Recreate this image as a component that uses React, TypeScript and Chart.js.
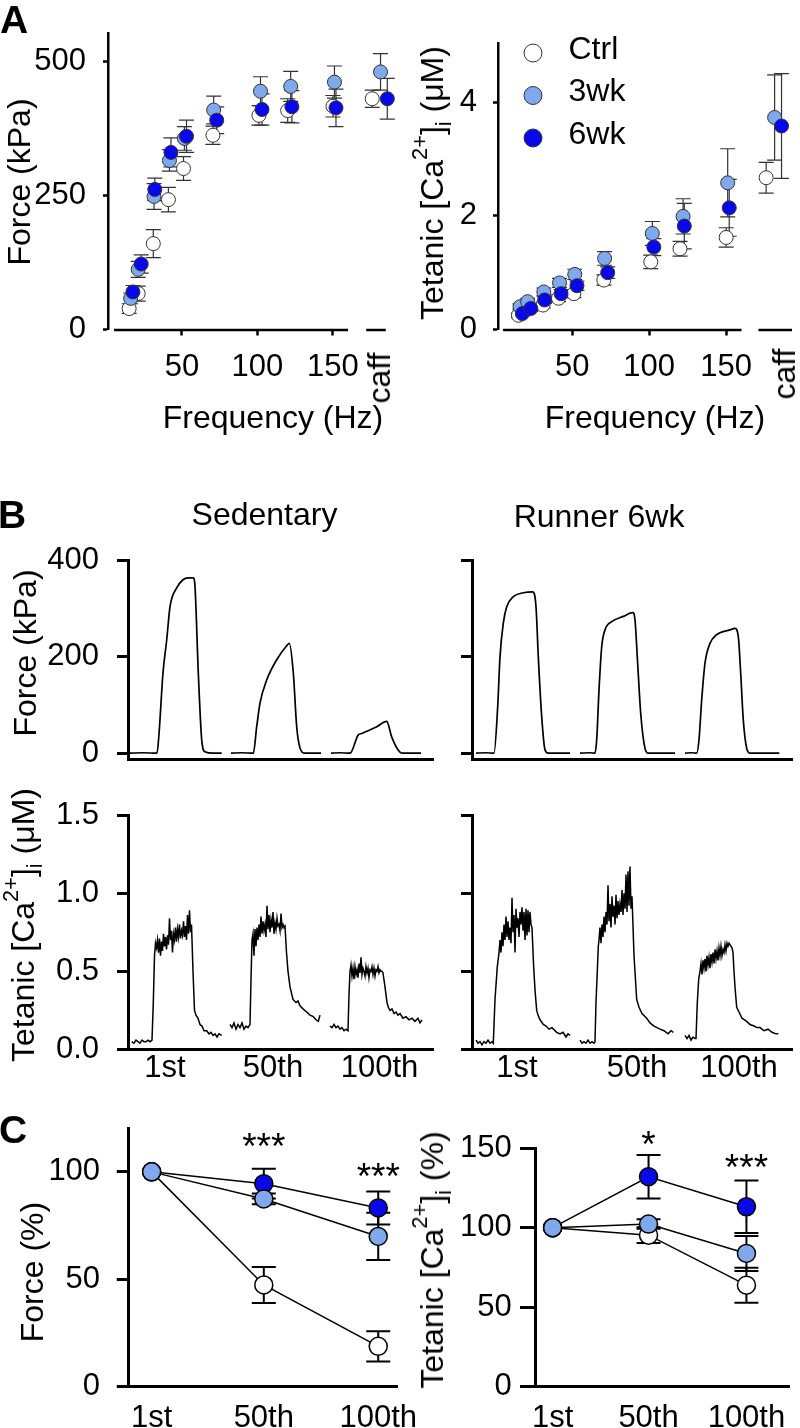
import React, { useEffect, useRef } from 'react';
import { Chart, registerables } from 'chart.js';

Chart.register(...registerables);

const FONT = "'Liberation Sans', Arial, Helvetica, sans-serif";
const TICK_FS = 31;
const TITLE_FS = 32;
const WHITE = '#ffffff';
const LIGHT = '#80a8ec';
const DARK = '#0808e8';

type Pt = [number, number];

// ---------------- Panel A: frequency relationships ----------------
const seriesNames = ['Ctrl', '3wk', '6wk'];
const freqTicks = [50, 100, 150];
// last entry of each x list is the caffeine (caff) group
const freqCtrl = [15, 21, 31, 41, 51, 70.5, 101, 120, 150, 176];
const freq3wk = [16, 21, 31.5, 41.7, 51.6, 71, 102, 122, 151, 181.5];
const freq6wk = [17.5, 23, 32, 42.7, 53, 73, 103, 122.8, 152, 186];

const forceCtrl = [39, 67, 160, 242, 300, 362, 399, 408, 416, 430];
const forceCtrlSE = [9, 14, 26, 23, 22, 17, 18, 22, 20, 16];
const force3wk = [58, 112, 248, 315, 356, 409, 444, 453, 461, 480];
const force3wkSE = [10, 15, 24, 20, 22, 26, 27, 28, 30, 34];
const force6wk = [70, 122, 261, 330, 360, 390, 410, 415, 413, 430];
const force6wkSE = [12, 17, 21, 27, 30, 25, 29, 30, 35, 38];
const forceTicks = [0, 250, 500];

const caCtrl = [0.25, 0.37, 0.43, 0.55, 0.63, 0.87, 1.19, 1.42, 1.62, 2.67];
const caCtrlSE = [0.04, 0.05, 0.05, 0.06, 0.07, 0.09, 0.12, 0.13, 0.17, 0.27];
const ca3wk = [0.4, 0.49, 0.66, 0.82, 0.97, 1.25, 1.69, 1.99, 2.58, 3.73];
const ca3wkSE = [0.05, 0.06, 0.07, 0.08, 0.09, 0.12, 0.21, 0.31, 0.6, 0.75];
const ca6wk = [0.28, 0.37, 0.52, 0.63, 0.77, 1.0, 1.45, 1.82, 2.14, 3.58];
const ca6wkSE = [0.04, 0.05, 0.06, 0.07, 0.08, 0.1, 0.15, 0.4, 0.5, 0.92];
const caTicks = [0, 2, 4];

// ---------------- Panel B: example traces (time in ms-like units) ----------------
const traceForceTicks = [0, 200, 400];
const traceCaTicks = [0, 0.5, 1.0, 1.5];
const stimLabels = ['1st', '50th', '100th'];
const sedLabelT = [37, 145, 251.5];
const runLabelT = [45, 165, 267];

const sedForce1st: Pt[] = [[2, 0], [15, 1], [29, 0], [31, 40], [35, 167], [38.7, 235], [42, 304], [48.7, 343], [55, 360], [60, 364], [65.3, 364], [67, 346], [70.3, 167], [73.7, 28], [77, 3], [85, 0], [93.7, 0]];
const sedForce50th: Pt[] = [[103, 0], [114, 1], [125.3, 0], [128.7, 55], [132, 104], [138.7, 152], [148.7, 194], [158.7, 223], [161.3, 228], [165.3, 167], [168.7, 55], [172, 11], [177, 0], [193, 0]];
const sedForce100th: Pt[] = [[203, 0], [212, 1], [222, 0], [230.3, 38], [233.7, 41], [248.7, 55], [258.7, 66], [263.7, 34], [270, 7], [274, 0], [293, 0]];

const runForce1st: Pt[] = [[4, 0], [14, 1], [22, 0], [25.7, 97], [28, 200], [31.3, 270], [34.7, 304], [41.3, 325], [51.3, 333], [60.7, 335], [64, 304], [66.3, 200], [69.7, 76], [73, 7], [76.3, 0], [98, 0]];
const runForce50th: Pt[] = [[108, 0], [118, 1], [123, 0], [124.7, 28], [127, 131], [129.7, 221], [133, 256], [139.7, 273], [151.3, 284], [160.7, 292], [163, 277], [165.3, 200], [168.7, 83], [173, 10], [176.3, 0], [203, 0]];
const runForce100th: Pt[] = [[213, 0], [220, 1], [224.7, 0], [227, 28], [229.7, 111], [233, 187], [238, 228], [244.7, 246], [258, 256], [263, 259], [266.3, 242], [268.7, 166], [271.3, 69], [274.7, 10], [278, 0], [307.3, 0]];

const sedCa1st: Pt[] = [[3.7, 0.05], [6, 0.04], [8, 0.06], [10, 0.05], [12, 0.04], [14, 0.06], [16, 0.05], [18, 0.05], [20, 0.06], [22, 0.05], [24, 0.06], [25.3, 0.3], [26.5, 0.6], [27.5, 0.68], [28.5, 0.65], [29.5, 0.7], [30.5, 0.62], [31.5, 0.71], [32.5, 0.6], [33.5, 0.69], [34.5, 0.63], [35.5, 0.74], [36.5, 0.66], [37.5, 0.72], [38.5, 0.64], [39.5, 0.73], [40.5, 0.67], [41.5, 0.84], [42.5, 0.7], [43.5, 0.76], [44.5, 0.62], [45.5, 0.74], [46.5, 0.7], [47.5, 0.78], [48.5, 0.69], [49.5, 0.77], [50.5, 0.72], [51.5, 0.8], [52.5, 0.71], [53.5, 0.76], [54.5, 0.73], [55.5, 0.82], [56.5, 0.72], [57.5, 0.79], [58.5, 0.7], [59.5, 0.86], [60.5, 0.74], [61.5, 0.89], [62.5, 0.75], [63.5, 0.8], [65, 0.5], [66.5, 0.25], [68, 0.22], [70, 0.2], [72, 0.16], [74, 0.15], [76, 0.12], [78.7, 0.12], [81, 0.1], [83, 0.11], [85, 0.09], [87, 0.1], [89, 0.08], [91, 0.1], [93.7, 0.09]];
const sedCa50th: Pt[] = [[102, 0.16], [104, 0.14], [106, 0.17], [108, 0.13], [110, 0.16], [112, 0.14], [114, 0.17], [116, 0.13], [118, 0.15], [120, 0.14], [122, 0.16], [123, 0.45], [124, 0.7], [125, 0.74], [126, 0.6], [127, 0.77], [128, 0.66], [129, 0.78], [130, 0.7], [131, 0.8], [132, 0.72], [133, 0.85], [134, 0.74], [135, 0.82], [136, 0.76], [137, 0.8], [138, 0.72], [139, 0.92], [140, 0.77], [141, 0.86], [142, 0.75], [143, 0.83], [144, 0.78], [145, 0.88], [146, 0.74], [147, 0.81], [148, 0.77], [149, 0.84], [150, 0.79], [151, 0.8], [152, 0.76], [153, 0.87], [154, 0.78], [155, 0.8], [156, 0.78], [157, 0.79], [158.5, 0.62], [160, 0.5], [162, 0.4], [165, 0.32], [168, 0.3], [170, 0.31], [172, 0.28], [175, 0.26], [178.7, 0.24], [182, 0.22], [185.3, 0.21], [188, 0.19], [190.3, 0.18], [192, 0.22]];
const sedCa100th: Pt[] = [[202, 0.15], [204, 0.14], [206, 0.16], [208, 0.14], [210, 0.15], [212, 0.13], [214, 0.14], [216, 0.12], [218, 0.13], [220, 0.12], [221, 0.35], [222, 0.5], [223, 0.54], [224, 0.47], [225, 0.52], [226, 0.45], [227, 0.53], [228, 0.48], [229, 0.51], [230, 0.46], [231, 0.55], [232, 0.49], [233, 0.59], [234, 0.48], [235, 0.52], [236, 0.5], [237, 0.47], [238, 0.53], [239, 0.49], [240, 0.52], [241, 0.46], [242, 0.51], [243, 0.5], [244, 0.53], [245, 0.48], [246, 0.52], [247, 0.47], [248, 0.51], [249, 0.5], [250, 0.53], [251, 0.49], [252, 0.51], [253, 0.5], [254, 0.5], [255, 0.49], [257, 0.4], [259, 0.3], [260.3, 0.27], [262, 0.25], [264, 0.26], [266, 0.23], [268, 0.24], [270, 0.22], [272, 0.23], [275, 0.2], [278, 0.21], [281, 0.19], [284, 0.2], [287, 0.18], [290, 0.2], [292, 0.17], [294, 0.19]];

const runCa1st: Pt[] = [[4, 0.06], [6, 0.04], [8, 0.05], [10, 0.03], [12, 0.05], [14, 0.04], [16, 0.06], [18, 0.04], [20, 0.05], [21.3, 0.04], [23, 0.32], [25.3, 0.53], [27, 0.62], [28, 0.7], [29, 0.62], [30, 0.75], [31, 0.66], [32, 0.8], [33, 0.7], [34, 0.85], [35, 0.72], [36, 0.82], [37, 0.7], [38, 0.78], [39, 0.68], [40, 0.97], [41, 0.75], [42, 0.86], [43, 0.62], [44, 0.9], [45, 0.78], [46, 0.84], [47, 0.72], [48, 0.88], [49, 0.8], [50, 0.91], [51, 0.76], [52, 0.88], [53, 0.7], [54, 0.9], [55, 0.73], [56, 0.89], [57, 0.75], [58, 0.88], [59, 0.8], [60, 0.78], [61.5, 0.55], [63, 0.38], [64.7, 0.25], [66, 0.22], [68, 0.19], [71.3, 0.16], [74, 0.15], [77, 0.13], [80, 0.14], [84.7, 0.11], [88, 0.1], [91, 0.11], [94, 0.08], [96, 0.1], [98, 0.09]];
const runCa50th: Pt[] = [[108, 0.06], [110, 0.04], [112, 0.05], [114, 0.04], [116, 0.06], [118, 0.04], [120, 0.05], [122, 0.04], [123, 0.05], [124, 0.3], [125.3, 0.5], [126.3, 0.66], [127, 0.7], [128, 0.78], [129, 0.68], [130, 0.8], [131, 0.72], [132, 0.85], [133, 0.75], [134, 0.88], [135, 0.8], [136, 1.05], [137, 0.82], [138, 0.93], [139, 0.78], [140, 0.98], [141, 0.85], [142, 0.92], [143, 0.8], [144, 0.99], [145, 0.84], [146, 0.95], [147, 0.86], [148, 0.93], [149, 0.88], [150, 1.02], [151, 0.86], [152, 1.0], [153, 0.9], [154, 1.12], [155, 0.88], [156, 1.14], [157, 0.92], [158, 1.17], [159, 0.9], [160, 0.98], [162, 0.6], [164.7, 0.32], [167, 0.27], [170, 0.23], [174.7, 0.2], [178, 0.17], [182, 0.15], [188, 0.13], [192, 0.12], [196, 0.1], [199, 0.12], [201.3, 0.11]];
const runCa100th: Pt[] = [[213, 0.09], [215, 0.07], [217, 0.09], [219, 0.06], [221, 0.08], [223, 0.07], [224, 0.07], [225.3, 0.3], [226.7, 0.45], [228, 0.5], [229, 0.55], [230, 0.48], [231, 0.57], [232, 0.52], [233, 0.58], [234, 0.5], [235, 0.6], [236, 0.54], [237, 0.59], [238, 0.52], [239, 0.61], [240, 0.56], [241, 0.62], [242, 0.55], [243, 0.64], [244, 0.58], [245, 0.63], [246, 0.57], [247, 0.65], [248, 0.6], [249, 0.66], [250, 0.6], [251, 0.64], [252, 0.62], [253, 0.67], [254, 0.63], [255, 0.68], [256, 0.66], [257, 0.68], [258, 0.67], [259, 0.66], [260, 0.65], [261, 0.62], [262, 0.5], [263, 0.4], [264.7, 0.27], [267, 0.24], [270, 0.2], [274.7, 0.18], [278, 0.16], [282, 0.15], [285, 0.14], [288, 0.14], [292, 0.12], [296, 0.13], [300, 0.11], [304, 0.1], [306.3, 0.1]];

// ---------------- Panel C: fatigue ----------------
const stimTicks = [1, 50, 100];
const fatForceCtrl = [100, 47.3, 18.7];
const fatForceCtrlSE = [0, 8.4, 7];
const fatForce3wk = [100, 87.4, 69.9];
const fatForce3wkSE = [0, 2.5, 11];
const fatForce6wk = [100, 94.5, 83.2];
const fatForce6wkSE = [0, 6.9, 7.7];
const fatForceTicks = [0, 50, 100];
const fatCaCtrl = [100, 95.3, 63.8];
const fatCaCtrlSE = [0, 5, 11];
const fatCa3wk = [100, 102.3, 83.8];
const fatCa3wkSE = [0, 3, 11];
const fatCa6wk = [100, 132.1, 113.2];
const fatCa6wkSE = [0, 13.7, 16.5];
const fatCaTicks = [0, 50, 100, 150];
const sigForceText = ['***', '***'];
const sigForceX = [50, 100];
const sigForceY = [115.3, 101.3];
const sigCaText = ['*', '***'];
const sigCaX = [50, 100];
const sigCaY = [157.3, 142.6];

// ---------------- helpers ----------------
const pts = (xs: number[], ys: number[]) => ys.map((y, i) => ({ x: xs[i], y }));
const tr = (p: Pt[]) => p.map(([x, y]) => ({ x, y }));

function errorBars(color: string, width: number, cap: number) {
  return {
    id: 'errorBars',
    beforeDatasetsDraw(chart: any) {
      const { ctx, scales } = chart;
      ctx.save();
      ctx.strokeStyle = color;
      ctx.lineWidth = width;
      chart.data.datasets.forEach((ds: any) => {
        if (!ds.errors) return;
        ds.data.forEach((p: any, i: number) => {
          const e = ds.errors[i];
          if (!e) return;
          const px = scales.x.getPixelForValue(p.x);
          const top = scales.y.getPixelForValue(p.y + e);
          const bot = scales.y.getPixelForValue(p.y - e);
          ctx.beginPath();
          ctx.moveTo(px, top);
          ctx.lineTo(px, bot);
          ctx.moveTo(px - cap, top);
          ctx.lineTo(px + cap, top);
          ctx.moveTo(px - cap, bot);
          ctx.lineTo(px + cap, bot);
          ctx.stroke();
        });
      });
      ctx.restore();
    },
  };
}

function brokenAxis(segments: number[][], width: number) {
  return {
    id: 'brokenAxis',
    afterDraw(chart: any) {
      const { ctx, chartArea, scales } = chart;
      ctx.save();
      ctx.strokeStyle = '#000';
      ctx.lineWidth = width;
      const yy = chartArea.bottom + 0.5;
      segments.forEach(([a, b]) => {
        ctx.beginPath();
        ctx.moveTo(scales.x.getPixelForValue(a), yy);
        ctx.lineTo(scales.x.getPixelForValue(b), yy);
        ctx.stroke();
      });
      ctx.restore();
    },
  };
}

function dotLegend() {
  return {
    id: 'dotLegend',
    afterDraw(chart: any) {
      const { ctx, chartArea } = chart;
      ctx.save();
      chart.data.datasets.forEach((ds: any, i: number) => {
        const cx = chartArea.left + 35;
        const cy = chartArea.top + 10 + i * 42.5;
        ctx.beginPath();
        ctx.arc(cx, cy, 9, 0, Math.PI * 2);
        ctx.fillStyle = ds.pointBackgroundColor;
        ctx.fill();
        ctx.lineWidth = 1;
        ctx.strokeStyle = ds.pointBorderColor;
        ctx.stroke();
        ctx.fillStyle = '#000';
        ctx.font = `${TITLE_FS}px ${FONT}`;
        ctx.textAlign = 'left';
        ctx.textBaseline = 'middle';
        ctx.fillText(ds.label, cx + 35.5, cy - 3);
      });
      ctx.restore();
    },
  };
}

function stars(xs: number[], ys: number[], texts: string[]) {
  return {
    id: 'stars',
    afterDraw(chart: any) {
      const { ctx, scales } = chart;
      ctx.save();
      ctx.fillStyle = '#000';
      ctx.font = `37px ${FONT}`;
      ctx.textAlign = 'center';
      ctx.textBaseline = 'alphabetic';
      texts.forEach((t, i) => {
        ctx.fillText(t, scales.x.getPixelForValue(xs[i]), scales.y.getPixelForValue(ys[i]) + 20.4);
      });
      ctx.restore();
    },
  };
}

type Box = { x: number; y: number; w: number; h: number };
type Area = { l: number; t: number; r: number; b: number };
type Axis = {
  min: number;
  max: number;
  ticks: number[];
  label?: (v: number, i: number) => string;
  tickLen: number;
  pad: number;
  border: boolean;
  lw: number;
};
type Panel = { id: string; box: Box; area: Area; x: Axis; y: Axis; datasets: any[]; plugins: any[] };

function axisOpts(a: Axis, fit: (s: any) => void) {
  return {
    type: 'linear',
    min: a.min,
    max: a.max,
    afterBuildTicks: (s: any) => {
      s.ticks = a.ticks.map((v) => ({ value: v }));
    },
    afterFit: (s: any) => {
      fit(s);
      s.paddingLeft = 0;
      s.paddingRight = 0;
      s.paddingTop = 0;
      s.paddingBottom = 0;
    },
    grid: {
      display: true,
      drawOnChartArea: false,
      drawTicks: a.tickLen > 0,
      tickLength: a.tickLen,
      tickWidth: a.lw,
      tickColor: '#000',
      color: '#000',
    },
    border: { display: a.border, color: '#000', width: a.lw },
    ticks: {
      display: !!a.label,
      autoSkip: false,
      maxRotation: 0,
      minRotation: 0,
      padding: a.pad,
      color: '#000',
      font: { family: FONT, size: TICK_FS },
      callback: (v: number, i: number) => (a.label ? a.label(v, i) : ''),
    },
  };
}

function buildConfig(p: Panel): any {
  const { box, area } = p;
  const yW = area.l - box.x;
  const xH = box.y + box.h - area.b;
  return {
    type: 'scatter',
    data: { datasets: p.datasets },
    options: {
      animation: false,
      responsive: false,
      devicePixelRatio: 1,
      events: [],
      layout: { padding: { left: 0, top: area.t - box.y, right: box.x + box.w - area.r, bottom: 0 } },
      plugins: { legend: { display: false }, tooltip: { enabled: false } },
      scales: {
        x: { ...axisOpts(p.x, (s) => { s.height = xH; }), position: 'bottom' },
        y: { ...axisOpts(p.y, (s) => { s.width = yW; }), position: 'left' },
      },
    },
    plugins: p.plugins,
  };
}

function dot(label: string, data: any[], errors: number[], fill: string, order: number, r: number, line: boolean, bw: number) {
  return {
    label,
    data,
    errors,
    order,
    showLine: line,
    borderColor: '#000',
    borderWidth: line ? 1.5 : 0,
    pointRadius: r,
    pointBackgroundColor: fill,
    pointBorderColor: line ? '#000' : '#333',
    pointBorderWidth: bw,
    clip: false,
  };
}

function trace(p: Pt[], smooth: boolean) {
  return {
    data: tr(p),
    showLine: true,
    borderColor: '#000',
    borderWidth: smooth ? 1.7 : 1.5,
    pointRadius: 0,
    cubicInterpolationMode: smooth ? 'monotone' : 'default',
    tension: 0,
    clip: false,
  };
}

const num = (v: number) => String(v);
const fixed1 = (v: number) => v.toFixed(1);
const stimName = (_v: number, i: number) => stimLabels[i];

const panels: Panel[] = [
  {
    id: 'A-force',
    box: { x: 0, y: 0, w: 410, h: 400 },
    area: { l: 108, t: 33, r: 400, b: 329.5 },
    x: { min: 1, max: 194.4, ticks: freqTicks, label: num, tickLen: 6, pad: 13, border: false, lw: 2.5 },
    y: { min: 0, max: 552.5, ticks: forceTicks, label: num, tickLen: 5, pad: 17, border: true, lw: 2.5 },
    datasets: [
      dot(seriesNames[0], pts(freqCtrl, forceCtrl), forceCtrlSE, WHITE, 3, 7, false, 1),
      dot(seriesNames[1], pts(freq3wk, force3wk), force3wkSE, LIGHT, 2, 7, false, 1),
      dot(seriesNames[2], pts(freq6wk, force6wk), force6wkSE, DARK, 1, 7, false, 1),
    ],
    plugins: [errorBars('#333', 1.2, 7.5), brokenAxis([[5, 160], [172, 185]], 2.5)],
  },
  {
    id: 'A-ca',
    box: { x: 400, y: 0, w: 400, h: 400 },
    area: { l: 498, t: 43, r: 800, b: 329.5 },
    x: { min: 1.7, max: 192.8, ticks: freqTicks, label: num, tickLen: 6, pad: 13, border: false, lw: 2.5 },
    y: { min: 0, max: 5.04, ticks: caTicks, label: num, tickLen: 5, pad: 16, border: true, lw: 2.5 },
    datasets: [
      dot(seriesNames[0], pts(freqCtrl, caCtrl), caCtrlSE, WHITE, 3, 7, false, 1),
      dot(seriesNames[1], pts(freq3wk, ca3wk), ca3wkSE, LIGHT, 2, 7, false, 1),
      dot(seriesNames[2], pts(freq6wk, ca6wk), ca6wkSE, DARK, 1, 7, false, 1),
    ],
    plugins: [errorBars('#333', 1.2, 7.5), brokenAxis([[5, 160], [171, 192.8]], 2.5), dotLegend()],
  },
  {
    id: 'B-force-sed',
    box: { x: 0, y: 530, w: 440, h: 240 },
    area: { l: 128, t: 560.5, r: 433, b: 759 },
    x: { min: 0, max: 305, ticks: [], tickLen: 0, pad: 0, border: true, lw: 3 },
    y: { min: -12, max: 400, ticks: traceForceTicks, label: num, tickLen: 11, pad: 18, border: true, lw: 3 },
    datasets: [trace(sedForce1st, true), trace(sedForce50th, true), trace(sedForce100th, true)],
    plugins: [],
  },
  {
    id: 'B-force-run',
    box: { x: 440, y: 530, w: 360, h: 240 },
    area: { l: 472, t: 560.5, r: 792, b: 759 },
    x: { min: 0, max: 320, ticks: [], tickLen: 0, pad: 0, border: true, lw: 3 },
    y: { min: -12, max: 400, ticks: traceForceTicks, tickLen: 11, pad: 18, border: true, lw: 3 },
    datasets: [trace(runForce1st, true), trace(runForce50th, true), trace(runForce100th, true)],
    plugins: [],
  },
  {
    id: 'B-ca-sed',
    box: { x: 0, y: 790, w: 440, h: 300 },
    area: { l: 128, t: 815, r: 433, b: 1049.5 },
    x: { min: 0, max: 305, ticks: sedLabelT, label: stimName, tickLen: 0, pad: 0, border: true, lw: 3 },
    y: { min: 0, max: 1.5, ticks: traceCaTicks, label: fixed1, tickLen: 11, pad: 18, border: true, lw: 3 },
    datasets: [trace(sedCa1st, false), trace(sedCa50th, false), trace(sedCa100th, false)],
    plugins: [],
  },
  {
    id: 'B-ca-run',
    box: { x: 440, y: 790, w: 360, h: 300 },
    area: { l: 472, t: 815, r: 792, b: 1049.5 },
    x: { min: 0, max: 320, ticks: runLabelT, label: stimName, tickLen: 0, pad: 0, border: true, lw: 3 },
    y: { min: 0, max: 1.5, ticks: traceCaTicks, tickLen: 11, pad: 18, border: true, lw: 3 },
    datasets: [trace(runCa1st, false), trace(runCa50th, false), trace(runCa100th, false)],
    plugins: [],
  },
  {
    id: 'C-force',
    box: { x: 0, y: 1100, w: 440, h: 328 },
    area: { l: 128.3, t: 1128.3, r: 397, b: 1386.5 },
    x: { min: -9.2, max: 108.2, ticks: stimTicks, label: stimName, tickLen: 0, pad: 13.4, border: true, lw: 3 },
    y: { min: 0, max: 120.3, ticks: fatForceTicks, label: num, tickLen: 11.5, pad: 16.7, border: true, lw: 3 },
    datasets: [
      dot(seriesNames[0], pts(stimTicks, fatForceCtrl), fatForceCtrlSE, WHITE, 3, 9, true, 1.5),
      dot(seriesNames[1], pts(stimTicks, fatForce3wk), fatForce3wkSE, LIGHT, 1, 9, true, 1.5),
      dot(seriesNames[2], pts(stimTicks, fatForce6wk), fatForce6wkSE, DARK, 2, 9, true, 1.5),
    ],
    plugins: [errorBars('#000', 2, 12), stars(sigForceX, sigForceY, sigForceText)],
  },
  {
    id: 'C-ca',
    box: { x: 400, y: 1100, w: 400, h: 328 },
    area: { l: 535, t: 1148.3, r: 800, b: 1386.5 },
    x: { min: -8, max: 122, ticks: stimTicks, label: stimName, tickLen: 0, pad: 13.4, border: true, lw: 3 },
    y: { min: 0, max: 150, ticks: fatCaTicks, label: num, tickLen: 15, pad: 8.3, border: true, lw: 3 },
    datasets: [
      dot(seriesNames[0], pts(stimTicks, fatCaCtrl), fatCaCtrlSE, WHITE, 3, 9, true, 1.5),
      dot(seriesNames[1], pts(stimTicks, fatCa3wk), fatCa3wkSE, LIGHT, 1, 9, true, 1.5),
      dot(seriesNames[2], pts(stimTicks, fatCa6wk), fatCa6wkSE, DARK, 2, 9, true, 1.5),
    ],
    plugins: [errorBars('#000', 2, 12), stars(sigCaX, sigCaY, sigCaText)],
  },
];

function ChartCanvas({ panel }: { panel: Panel }) {
  const ref = useRef<HTMLCanvasElement>(null);
  useEffect(() => {
    const chart = new Chart(ref.current as HTMLCanvasElement, buildConfig(panel));
    return () => chart.destroy();
  }, [panel]);
  const { x, y, w, h } = panel.box;
  return (
    <canvas
      ref={ref}
      width={w}
      height={h}
      style={{ position: 'absolute', left: x, top: y, width: w, height: h }}
    />
  );
}

function Txt({ x, y, children, size = TITLE_FS, bold = false, center = true }: any) {
  return (
    <div
      style={{
        position: 'absolute',
        left: x,
        top: y,
        transform: center ? 'translateX(-50%)' : undefined,
        fontSize: size,
        lineHeight: `${size}px`,
        fontWeight: bold ? 700 : 400,
        whiteSpace: 'nowrap',
      }}
    >
      {children}
    </div>
  );
}

function VTxt({ x, y, children }: any) {
  return (
    <div
      style={{
        position: 'absolute',
        left: x,
        top: y,
        transform: 'translate(-50%, -50%) rotate(-90deg)',
        fontSize: TITLE_FS,
        lineHeight: `${TITLE_FS}px`,
        whiteSpace: 'nowrap',
      }}
    >
      {children}
    </div>
  );
}

function CaTitle({ unit }: { unit: string }) {
  return (
    <>
      Tetanic [Ca
      <span style={{ fontSize: '0.68em', position: 'relative', top: '-0.75em' }}>2+</span>]
      <span style={{ fontSize: '0.68em', position: 'relative', top: '0.35em' }}>i</span> ({unit})
    </>
  );
}

export default function App() {
  return (
    <div
      style={{
        position: 'absolute',
        left: 0,
        top: 0,
        width: 800,
        height: 1428,
        overflow: 'hidden',
        background: '#fff',
        color: '#000',
        fontFamily: FONT,
      }}
    >
      {panels.map((p) => (
        <ChartCanvas key={p.id} panel={p} />
      ))}

      <Txt x={0} y={0} size={39} bold center={false}>A</Txt>
      <Txt x={-2} y={495} size={39} bold center={false}>B</Txt>
      <Txt x={-1} y={1110} size={39} bold center={false}>C</Txt>

      <VTxt x={18.5} y={182}>Force (kPa)</VTxt>
      <VTxt x={433.5} y={182.5}><CaTitle unit="μM" /></VTxt>
      <Txt x={273} y={401}>Frequency (Hz)</Txt>
      <Txt x={655} y={401}>Frequency (Hz)</Txt>
      <VTxt x={378.5} y={378}>caff</VTxt>
      <VTxt x={784} y={374}>caff</VTxt>

      <Txt x={264.5} y={498}>Sedentary</Txt>
      <Txt x={599} y={500}>Runner 6wk</Txt>
      <VTxt x={25} y={653}>Force (kPa)</VTxt>
      <VTxt x={25} y={925}><CaTitle unit="μM" /></VTxt>

      <VTxt x={31.8} y={1272}>Force (%)</VTxt>
      <VTxt x={433.5} y={1260}><CaTitle unit="%" /></VTxt>
    </div>
  );
}
